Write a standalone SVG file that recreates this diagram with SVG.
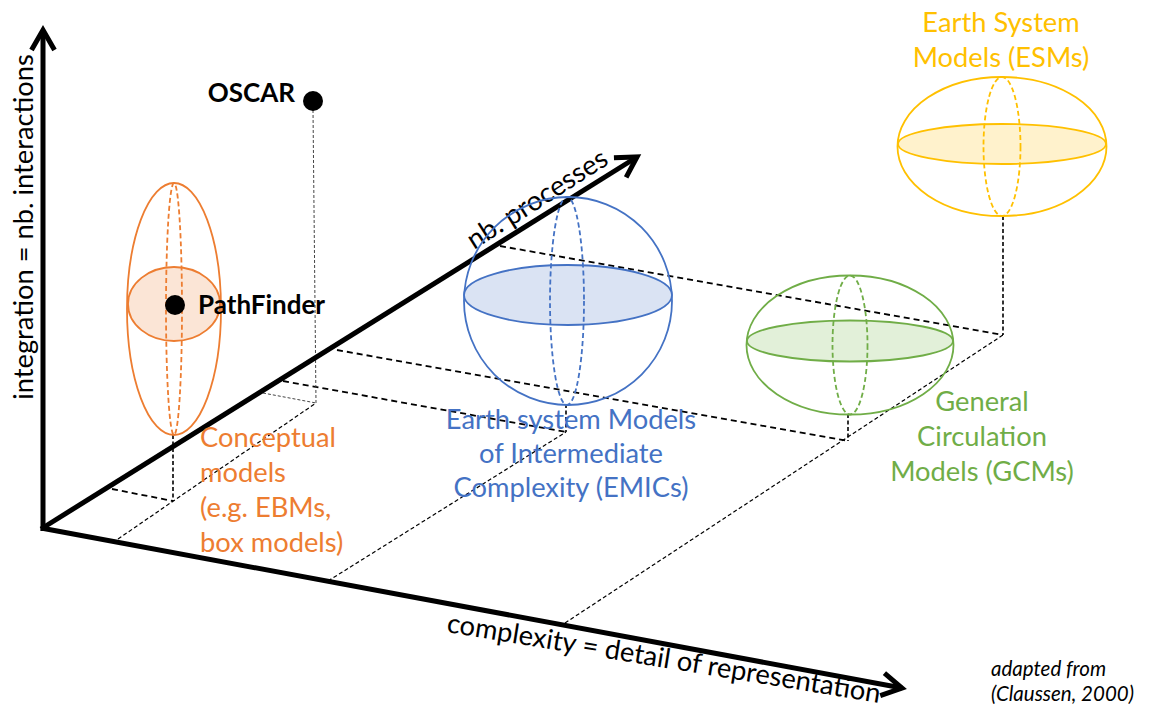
<svg xmlns="http://www.w3.org/2000/svg" width="1150" height="710" viewBox="0 0 1150 710">
<style>
text{font-family:Lato,"Open Sans","Liberation Sans",sans-serif;}
.axis{stroke:#000;stroke-width:5;fill:none;}
.dh{stroke:#000;stroke-width:1.8;stroke-dasharray:6 4;fill:none;}
.dd{stroke:#000;stroke-width:1.2;stroke-dasharray:4 2.5;fill:none;}
.dv{stroke:#000;stroke-width:1.6;stroke-dasharray:4 2.5;fill:none;}
.thin{stroke:#444;stroke-width:1;stroke-dasharray:3 2;fill:none;}
.lbl{font-size:27.3px;}
.ax{font-size:27.3px;fill:#000;}
.dot{fill:#000;}
.bold{font-size:26px;font-weight:bold;fill:#000;}
.or{stroke:#ED7D31;stroke-width:1.8;fill:none;}
.bl{stroke:#4472C4;stroke-width:1.8;fill:none;}
.gr{stroke:#70AD47;stroke-width:1.8;fill:none;}
.go{stroke:#FFC000;stroke-width:1.8;fill:none;}
.dash{stroke-dasharray:5 3;}
.src{font-size:20.5px;font-style:italic;fill:#000;}
</style>
<defs>
<marker id="chev" viewBox="-26 -16 30 32" refX="0" refY="0" markerWidth="30" markerHeight="32" markerUnits="userSpaceOnUse" orient="auto" overflow="visible">
<path d="M -20 -11.5 L 0 0 L -20 11.5" fill="none" stroke="#000" stroke-width="5" stroke-linejoin="miter"/>
</marker>
</defs>

<g id="connectors">
<line class="dh" x1="112" y1="489" x2="173" y2="501"/>
<line class="dh" x1="283" y1="381" x2="566" y2="432"/>
<line class="dh" x1="337" y1="350" x2="848" y2="441"/>
<line class="dh" x1="500" y1="246" x2="1003" y2="335"/>
<line class="thin" x1="263" y1="393" x2="316" y2="403"/>
<line class="dd" x1="118" y1="539" x2="316" y2="403"/>
<line class="dd" x1="328" y1="581" x2="566" y2="432"/>
<line class="dd" x1="565" y1="623" x2="1003" y2="335"/>
<line class="dv" x1="173" y1="435" x2="173" y2="501"/>
<line class="dv" x1="566" y1="404" x2="566" y2="432"/>
<line class="dv" x1="848" y1="414" x2="848" y2="441"/>
<line class="dv" x1="1003" y1="216" x2="1003" y2="335"/>
<line class="thin" x1="313" y1="110" x2="316" y2="403"/>
</g>

<g id="axes">
<line class="axis" x1="43" y1="531" x2="43" y2="30" marker-end="url(#chev)"/>
<line class="axis" x1="41" y1="529" x2="637" y2="157" marker-end="url(#chev)"/>
<line class="axis" x1="41" y1="528" x2="902" y2="688" marker-end="url(#chev)"/>
<text class="ax" transform="translate(33,227) rotate(-90)" text-anchor="middle">integration = nb. interactions</text>
<text class="ax" transform="translate(474,250) rotate(-32.5)">nb. processes</text>
<text class="ax" transform="translate(446,632) rotate(9.3)">complexity = detail of representation</text>
</g>

<g id="conceptual">
<ellipse class="or" cx="174" cy="309" rx="47" ry="126"/>
<ellipse cx="174" cy="304" rx="46" ry="37" fill="#FBE5D6" stroke="#ED7D31" stroke-width="1.8"/>
<ellipse class="or dash" cx="174" cy="309" rx="8" ry="126"/>
<text class="lbl" fill="#ED7D31" x="200" y="447">Conceptual</text>
<text class="lbl" fill="#ED7D31" x="200" y="482">models</text>
<text class="lbl" fill="#ED7D31" x="200" y="517">(e.g. EBMs,</text>
<text class="lbl" fill="#ED7D31" x="200" y="552">box models)</text>
</g>

<g id="pathfinder">
<circle class="dot" cx="175" cy="305" r="10"/>
<text class="bold" x="198" y="314">PathFinder</text>
</g>

<g id="oscar">
<circle class="dot" cx="313" cy="101" r="10"/>
<text class="bold" x="295" y="102" text-anchor="end">OSCAR</text>
</g>

<g id="emic">
<circle class="bl" cx="568" cy="301" r="104"/>
<ellipse cx="568" cy="295" rx="104" ry="30" fill="#DAE3F3" stroke="#4472C4" stroke-width="1.8"/>
<ellipse class="bl dash" cx="567" cy="301" rx="17" ry="104"/>
<text class="lbl" fill="#4472C4" x="571" y="429" text-anchor="middle">Earth system Models</text>
<text class="lbl" fill="#4472C4" x="571" y="463" text-anchor="middle">of Intermediate</text>
<text class="lbl" fill="#4472C4" x="571" y="497" text-anchor="middle">Complexity (EMICs)</text>
</g>

<g id="gcm">
<ellipse class="gr" cx="850" cy="345" rx="103.5" ry="69.5"/>
<ellipse cx="850" cy="341" rx="103" ry="20.5" fill="#E2F0D9" stroke="#70AD47" stroke-width="1.8"/>
<ellipse class="gr dash" cx="850" cy="345" rx="17.5" ry="69.5"/>
<text class="lbl" fill="#70AD47" x="982" y="411" text-anchor="middle">General</text>
<text class="lbl" fill="#70AD47" x="982" y="446" text-anchor="middle">Circulation</text>
<text class="lbl" fill="#70AD47" x="982" y="481" text-anchor="middle">Models (GCMs)</text>
</g>

<g id="esm">
<ellipse class="go" cx="1002" cy="146.5" rx="104.5" ry="69.5"/>
<ellipse cx="1002" cy="144" rx="104" ry="20" fill="#FFF2CC" stroke="#FFC000" stroke-width="1.8"/>
<ellipse class="go dash" cx="1002" cy="146.5" rx="18.5" ry="69.5"/>
<text class="lbl" fill="#FFC000" x="1001" y="32" text-anchor="middle">Earth System</text>
<text class="lbl" fill="#FFC000" x="1001" y="67" text-anchor="middle">Models (ESMs)</text>
</g>

<g id="source">
<text class="src" x="991" y="676">adapted from</text>
<text class="src" x="991" y="701">(Claussen, 2000)</text>
</g>
</svg>
